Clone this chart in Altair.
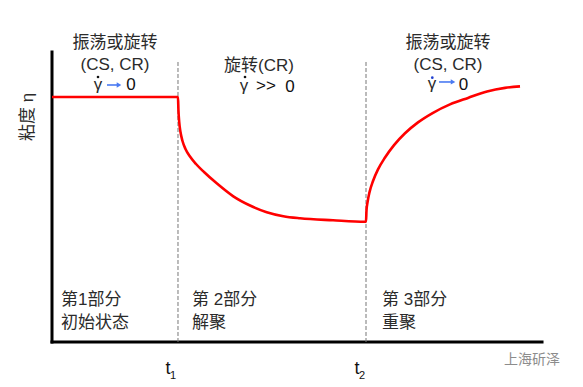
import altair as alt
import pandas as pd

# ---- data (time t, viscosity eta) ----
curve_t = [0.000, 2.571,
           2.580, 2.596, 2.622, 2.663, 2.724, 2.816, 2.939, 3.102, 3.361, 3.700, 4.041, 4.382,
           4.720, 5.061, 5.735, 6.388,
           6.408, 6.418, 6.439, 6.480, 6.551, 6.653, 6.796, 6.980, 7.204, 7.469, 7.776, 8.122,
           8.490, 8.878, 9.245, 9.551]
curve_eta = [8.448, 8.448,
             8.000, 7.586, 7.241, 6.931, 6.655, 6.397, 6.138, 5.862, 5.472, 5.024, 4.707, 4.476,
             4.338, 4.266, 4.197, 4.148,
             4.148, 4.538, 4.817, 5.169, 5.552, 5.952, 6.362, 6.790, 7.197, 7.572, 7.903, 8.193,
             8.417, 8.638, 8.762, 8.814]
t_marks = [2.571, 6.408]        # t1, t2
axis_t_end = 10.0
axis_eta_end = 10.0
divider_top = 9.66

W, H = 567, 379
xs = alt.Scale(domain=[-0.898, 10.673], nice=False, zero=False)
ys = alt.Scale(domain=[-1.552, 11.517], nice=False, zero=False)

def X(f="t"):
    return alt.X(f"{f}:Q", scale=xs, axis=None)

def Y(f="v"):
    return alt.Y(f"{f}:Q", scale=ys, axis=None)

CJK = "Noto Sans CJK SC"
LAT = "Liberation Sans, Noto Sans CJK SC"
TXT = "#2b2b2b"

# axes
axes_df = pd.DataFrame({"t": [0, 0], "v": [0, 0], "t2": [0, axis_t_end], "v2": [axis_eta_end, 0]})
axes = alt.Chart(axes_df).mark_rule(color="black", strokeWidth=3, strokeCap="square").encode(
    x=X(), y=Y(), x2="t2:Q", y2="v2:Q")

div_df = pd.DataFrame({"t": t_marks, "v": [0, 0], "v2": [divider_top, divider_top]})
dividers = alt.Chart(div_df).mark_rule(color="#777777", strokeWidth=1, strokeDash=[4, 2]).encode(
    x=X(), y=Y(), y2="v2:Q")

curve_df = pd.DataFrame({"t": curve_t, "v": curve_eta, "i": range(len(curve_t))})
curve = alt.Chart(curve_df).mark_line(color="#ff0000", strokeWidth=2.6, interpolate="monotone").encode(
    x=X(), y=Y(), order="i:Q")

def texts(rows, **kw):
    df = pd.DataFrame(rows, columns=["t", "v", "label"])
    return alt.Chart(df).mark_text(**kw).encode(x=X(), y=Y(), text="label:N")

top_cjk = texts([(1.286, 10.293, "振荡或旋转"), (8.082, 10.293, "振荡或旋转")],
                font=CJK, fontSize=17, color=TXT, align="center", baseline="middle")
top_lat = texts([(1.286, 9.552, "(CS, CR)"), (8.082, 9.552, "(CS, CR)"), (4.224, 9.517, "旋转(CR)")],
                font=LAT, fontSize=17, color=TXT, align="center", baseline="middle")
gammas = texts([(0.939, 8.690, "γ"), (3.918, 8.655, "γ"), (7.755, 8.724, "γ")],
               font=LAT, fontSize=17, color=TXT, align="center", baseline="alphabetic")
zeros = texts([(1.612, 8.690, "0"), (4.857, 8.621, "0"), (8.398, 8.690, "0"), (4.367, 8.655, ">>")],
              font=LAT, fontSize=17, color="#111111", align="center", baseline="alphabetic")

dots_df = pd.DataFrame({"t": [0.939, 3.939, 7.761], "v": [9.138, 9.138, 9.114],
                        "c": ["#111111", "#111111", "#1f3fd0"]})
dots = alt.Chart(dots_df).mark_circle(size=7, opacity=1).encode(
    x=X(), y=Y(), color=alt.Color("c:N", scale=None))

arrow_df = pd.DataFrame({"t": [1.122, 7.898], "t2": [1.347, 8.163], "v": [8.862, 8.966]})
arrow_lines = alt.Chart(arrow_df).mark_rule(color="#4a7af2", strokeWidth=1.6).encode(
    x=X(), x2="t2:Q", y=Y())
head_df = pd.DataFrame({"t": [1.367, 8.184], "v": [8.862, 8.966]})
arrow_heads = alt.Chart(head_df).mark_point(shape="triangle-right", filled=True, size=28,
                                            color="#4a7af2", opacity=1).encode(x=X(), y=Y())

bottom = texts([(0.184, 1.448, "第1部分"), (0.184, 0.655, "初始状态"),
                (2.857, 1.448, "第 2部分"), (2.857, 0.655, "解聚"),
                (6.735, 1.448, "第 3部分"), (6.735, 0.655, "重聚")],
               font=LAT, fontSize=17, color=TXT, align="left", baseline="middle")

ylab = texts([(-0.490, 7.759, "粘度 η")], font=LAT, fontSize=17, color=TXT,
             align="center", baseline="middle", angle=270)

tl = texts([(2.367, -1.10, "t"), (6.224, -1.10, "t")], font="Liberation Sans", fontSize=18,
           color="#111111", align="center", baseline="alphabetic")
tsub = texts([(2.469, -1.28, "1"), (6.327, -1.28, "2")], font="Liberation Sans", fontSize=11,
             color="#111111", align="center", baseline="alphabetic")

wm = texts([(9.796, -0.621, "上海斫泽")], font=CJK, fontSize=14, color="#8c8c8c",
           align="center", baseline="middle")

chart = alt.layer(axes, dividers, curve, top_cjk, top_lat, gammas, zeros, dots, arrow_lines,
                  arrow_heads, bottom, ylab, tl, tsub, wm).properties(
    width=W, height=H, padding=0, autosize=alt.AutoSizeParams(type="none"),
    background="white").configure_view(stroke=None)

chart.save("out.html", embed_options={"renderer": "svg", "actions": False})
